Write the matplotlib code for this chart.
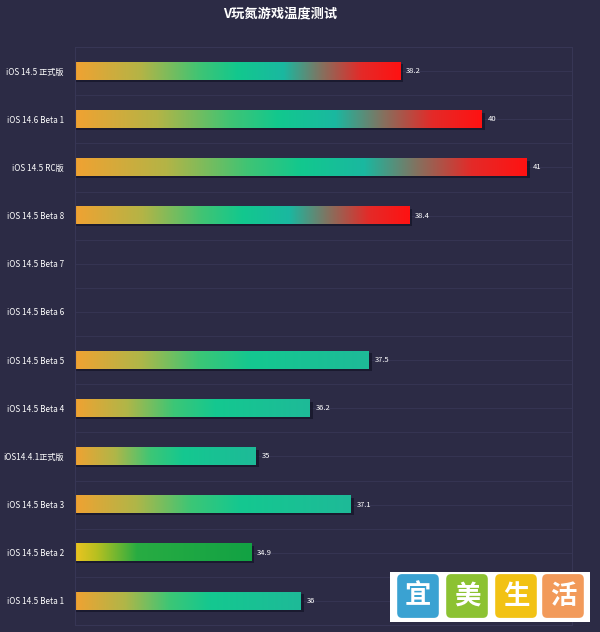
import numpy as np
import matplotlib
matplotlib.use("Agg")
import matplotlib.pyplot as plt
from matplotlib.colors import LinearSegmentedColormap
from matplotlib.patches import Rectangle, FancyBboxPatch

plt.rcParams['font.family'] = ['Noto Sans CJK SC', 'DejaVu Sans']

title = "V玩氮游戏温度测试"
categories = ["iOS 14.5 正式版", "iOS 14.6 Beta 1", "iOS 14.5 RC版", "iOS 14.5 Beta 8",
              "iOS 14.5 Beta 7", "iOS 14.5 Beta 6", "iOS 14.5 Beta 5", "iOS 14.5 Beta 4",
              "iOS14.4.1正式版", "iOS 14.5 Beta 3", "iOS 14.5 Beta 2", "iOS 14.5 Beta 1"]
values = [38.2, 40, 41, 38.4, np.nan, np.nan, 37.5, 36.2, 35, 37.1, 34.9, 36]
value_labels = ["38.2", "40", "41", "38.4", "", "", "37.5", "36.2", "35", "37.1", "34.9", "36"]
x_min, x_max = 31, 42
watermark_chars = ["宜", "美", "生", "活"]

BG = "#2c2b45"
GRID = "#373655"

cmap_hot = LinearSegmentedColormap.from_list("hot", [
    (0.0, "#f0a232"), (0.2, "#b4b446"), (0.38, "#40c474"), (0.5, "#12c88e"),
    (0.64, "#1ab8a0"), (0.76, "#86705e"), (0.88, "#e42a28"), (1.0, "#ff1212")])
cmap_cool = LinearSegmentedColormap.from_list("cool", [
    (0.0, "#f0a232"), (0.22, "#b0b648"), (0.42, "#3cc676"), (0.6, "#14c890"),
    (1.0, "#1eba98")])
cmap_lime = LinearSegmentedColormap.from_list("lime", [
    (0.0, "#ecc420"), (0.12, "#b8c020"), (0.35, "#28ac42"), (1.0, "#12a244")])

fig = plt.figure(figsize=(6, 6.32), dpi=100, facecolor=BG)
ax = fig.add_axes([0.125, 0.011, 0.828, 0.9145])
ax.set_facecolor(BG)

n = len(categories)
ypos = np.arange(n)

for y in np.arange(-0.5, n, 0.5):
    ax.axhline(y, color=GRID, lw=0.6, zorder=0)
for s in ax.spines.values():
    s.set_color(GRID)
    s.set_linewidth(0.8)

h = 0.36
grad = np.linspace(0, 1, 256).reshape(1, -1)
for i, (cat, v, lab) in enumerate(zip(categories, values, value_labels)):
    if np.isnan(v):
        continue
    if v >= 38:
        cm = cmap_hot
    elif cat == "iOS 14.5 Beta 2":
        cm = cmap_lime
    else:
        cm = cmap_cool
    ax.add_patch(Rectangle((x_min, i - h / 2 + 0.04), v - x_min + 0.07, h,
                           facecolor="#16162a", edgecolor="none", alpha=0.8, zorder=1))
    ax.imshow(grad, cmap=cm, aspect="auto", extent=(x_min, v, i + h / 2, i - h / 2),
              zorder=2, interpolation="bilinear")
    ax.text(v + 0.13, i, lab, color="white", fontsize=5.5, va="center", ha="left", zorder=3)

ax.set_xlim(x_min, x_max)
ax.set_ylim(n - 0.5, -0.5)
ax.set_yticks(ypos)
ax.set_yticklabels(categories, color="white", fontsize=5.9)
ax.tick_params(axis="y", length=0, pad=8)
ax.set_xticks([])

fig.text(0.467, 0.978, title, color="white", fontsize=9.5, ha="center", va="center",
         fontweight="bold")

# watermark
W, H = 600, 632
def fx(px): return px / W
def fy(py): return 1 - py / H
fig.patches.append(Rectangle((fx(390), fy(622)), fx(200), 50 / H, transform=fig.transFigure,
                             facecolor="white", edgecolor="none", zorder=5))
sq_cols = ["#3aa2d2", "#8cc232", "#f2c214", "#f29a5a"]
sq_x = [397, 446, 495, 542]
for ch, c, x0 in zip(watermark_chars, sq_cols, sq_x):
    fig.patches.append(FancyBboxPatch((fx(x0 + 2), fy(616)), fx(38), 40 / H,
                                      boxstyle="round,pad=0.003,rounding_size=0.008",
                                      transform=fig.transFigure, facecolor=c,
                                      edgecolor="none", zorder=6))
    fig.text(fx(x0 + 21), fy(596), ch, color="white", fontsize=19, ha="center",
             va="center", fontweight="bold", zorder=7)

fig.savefig("out.png", dpi=100, facecolor=BG)
